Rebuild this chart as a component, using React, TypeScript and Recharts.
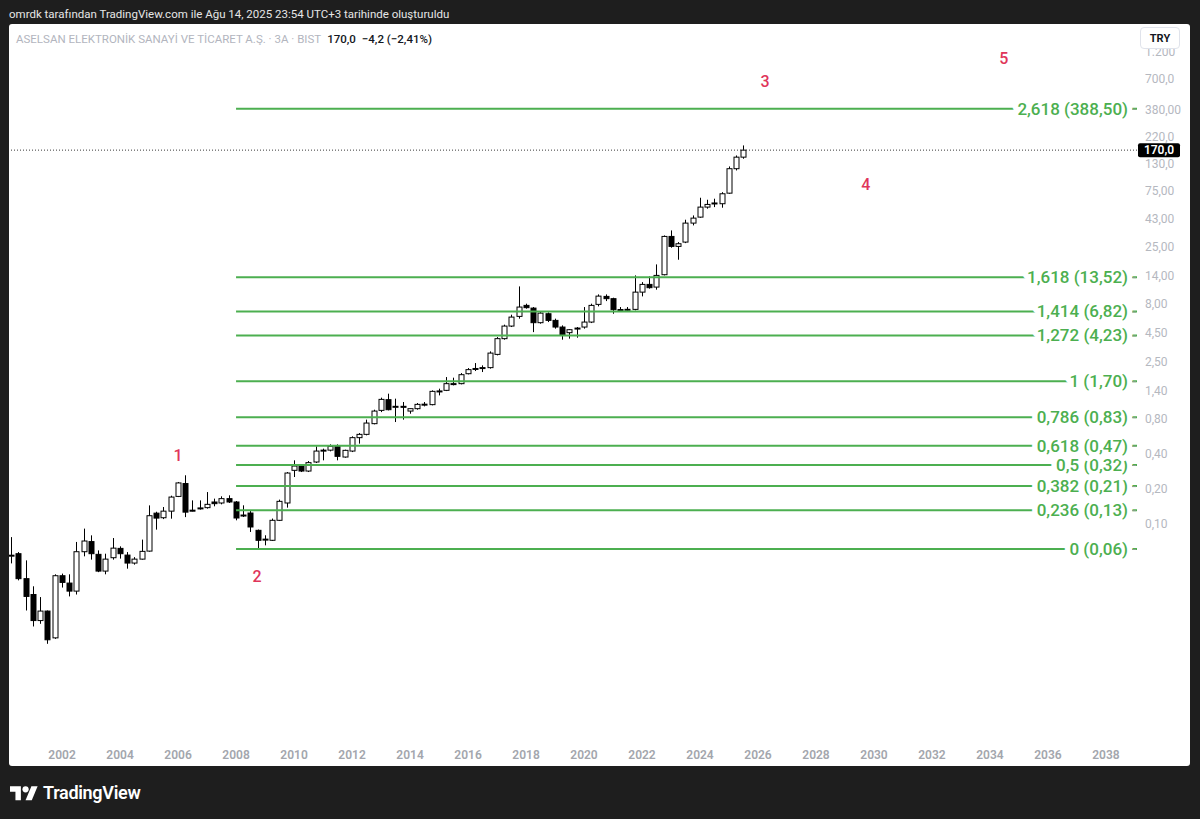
import React from 'react';
import { ComposedChart, Bar, XAxis, YAxis, ReferenceLine, ReferenceDot } from 'recharts';

document.body.style.margin = '0';

// quarterly bars (3A), first bar = Q2 2000
const firstQuarter = 2000.25;

const opens = [
  0.052, 0.0546, 0.0332, 0.0242, 0.0144, 0.0174, 0.0102, 0.0352, 0.0304, 0.0259,
  0.0568, 0.0695, 0.0539, 0.0386, 0.0504, 0.0607, 0.0531, 0.0453, 0.049, 0.0575,
  0.1225, 0.1118, 0.1275, 0.171, 0.221, 0.13, 0.135, 0.1367, 0.153, 0.15,
  0.1636, 0.153, 0.116, 0.1228, 0.087, 0.072, 0.0713, 0.1062, 0.15, 0.2876,
  0.3133, 0.2835, 0.3395, 0.428, 0.43, 0.4638, 0.3749, 0.4223, 0.5516, 0.589,
  0.729, 0.95, 1.176, 1.02, 1.03, 0.937, 0.983, 1.07, 1.065, 1.39,
  1.416, 1.61, 1.618, 1.973, 2.17, 2.22, 2.227, 2.9, 3.968, 5.099,
  6.184, 7.701, 7.296, 5.455, 6.52, 5.711, 5.001, 4.47, 4.88, 5.001,
  5.523, 7.856, 9.212, 8.805, 7.05, 7.1, 7.112, 10.03, 11.7, 11.09,
  14.19, 30.44, 24.95, 27.19, 39.7, 44.73, 54.62, 59.0, 58.41, 72.11,
  117.4, 147.8,
];
const highs = [
  0.076, 0.0564, 0.0478, 0.0285, 0.023, 0.0176, 0.0362, 0.0367, 0.0362, 0.069,
  0.09, 0.0787, 0.0583, 0.0546, 0.0746, 0.0632, 0.0564, 0.051, 0.0723, 0.143,
  0.126, 0.1384, 0.1735, 0.228, 0.2605, 0.158, 0.158, 0.1865, 0.1636, 0.1713,
  0.1747, 0.156, 0.1432, 0.1278, 0.0883, 0.0788, 0.11, 0.1604, 0.278, 0.351,
  0.3178, 0.346, 0.4638, 0.443, 0.4826, 0.4826, 0.4342, 0.5661, 0.6044, 0.79,
  0.963, 1.224, 1.325, 1.2, 1.122, 0.985, 1.1, 1.122, 1.416, 1.464,
  1.846, 1.823, 1.998, 2.208, 2.44, 2.33, 3.079, 4.095, 5.244, 6.396,
  11.24, 7.965, 7.449, 6.87, 6.697, 5.911, 5.17, 4.8, 5.001, 7.449,
  7.965, 9.586, 9.586, 8.975, 7.449, 7.449, 14.0, 12.25, 13.72, 17.43,
  31.05, 34.32, 27.19, 42.47, 46.26, 65.81, 63.25, 64.56, 73.55, 122.8,
  152.9, 186.7,
];
const lows = [
  0.045, 0.0321, 0.0176, 0.0128, 0.0135, 0.00906, 0.01, 0.0278, 0.0233, 0.0242,
  0.0518, 0.0485, 0.0378, 0.0362, 0.0485, 0.0495, 0.0405, 0.0439, 0.0485, 0.0568,
  0.0882, 0.1088, 0.1097, 0.1688, 0.1132, 0.127, 0.1314, 0.134, 0.1404, 0.146,
  0.15, 0.1062, 0.1134, 0.0842, 0.059, 0.0645, 0.0703, 0.1047, 0.1367, 0.2517,
  0.278, 0.278, 0.3327, 0.351, 0.4198, 0.351, 0.37, 0.4138, 0.4895, 0.5775,
  0.719, 0.918, 0.95, 0.753, 0.79, 0.889, 0.963, 1.029, 1.05, 1.281,
  1.396, 1.564, 1.596, 1.947, 2.081, 2.04, 2.183, 2.843, 3.888, 5.001,
  5.911, 7.215, 4.52, 5.347, 5.523, 4.844, 3.888, 3.968, 4.045, 4.844,
  5.413, 7.55, 8.39, 6.52, 6.877, 6.877, 6.972, 9.212, 10.75, 10.53,
  14.0, 24.32, 19.13, 26.64, 37.91, 44.18, 52.91, 54.62, 53.96, 71.24,
  113.4, 143.2,
];
const closes = [
  0.053, 0.0332, 0.0233, 0.0144, 0.0174, 0.00982, 0.0352, 0.0308, 0.0259, 0.0568,
  0.0703, 0.0546, 0.0386, 0.049, 0.061, 0.0546, 0.0453, 0.049, 0.0572, 0.1164,
  0.111, 0.1275, 0.1688, 0.2237, 0.125, 0.129, 0.136, 0.146, 0.148, 0.1636,
  0.153, 0.1112, 0.118, 0.093, 0.0713, 0.073, 0.1062, 0.155, 0.2725, 0.3133,
  0.2835, 0.3352, 0.4223, 0.43, 0.4638, 0.38, 0.4283, 0.5516, 0.589, 0.738,
  0.937, 1.183, 0.963, 1.03, 1.02, 0.983, 1.071, 1.075, 1.388, 1.4,
  1.618, 1.62, 1.935, 2.14, 2.19, 2.23, 2.976, 3.968, 5.099, 6.099,
  7.449, 7.359, 5.455, 6.602, 5.711, 5.001, 4.294, 4.743, 4.9, 5.523,
  7.701, 9.264, 8.805, 7.071, 7.09, 7.12, 10.03, 11.7, 10.96, 14.0,
  30.44, 24.95, 26.32, 39.7, 43.85, 54.62, 57.6, 59.3, 71.24, 117.4,
  147.8, 170.0,
];

const yearTicks = [2002, 2004, 2006, 2008, 2010, 2012, 2014, 2016, 2018, 2020, 2022, 2024, 2026, 2028, 2030, 2032, 2034, 2036, 2038];
const priceTicks = [0.1, 0.2, 0.4, 0.8, 1.4, 2.5, 4.5, 8, 14, 25, 43, 75, 130, 220, 380, 700, 1200];
const priceTickLabels = ['0,10', '0,20', '0,40', '0,80', '1,40', '2,50', '4,50', '8,00', '14,00', '25,00', '43,00', '75,00', '130,0', '220,0', '380,00', '700,0', '1.200'];

const fibRatios = ['0', '0,236', '0,382', '0,5', '0,618', '0,786', '1', '1,272', '1,414', '1,618', '2,618'];
const fibPrices = [0.06, 0.13, 0.21, 0.32, 0.47, 0.83, 1.7, 4.23, 6.82, 13.52, 388.5];
const fibStart = 2008;

const waveNames = ['1', '2', '3', '4', '5'];
const waveTimes = [2006.0, 2008.72, 2026.24, 2029.72, 2034.48];
const wavePrices = [0.388, 0.0348, 671, 85.8, 1062];

const lastPrice = 170.0;

const candles = opens.map((open, i) => ({
  t: firstQuarter + i * 0.25,
  open,
  high: highs[i],
  low: lows[i],
  close: closes[i],
  range: [lows[i], highs[i]],
}));

const xDomain = [2000.17, 2039.07];
const yDomain = [0.00128, 2100];

const GREEN = '#4caf50';
const RED = '#e0355a';

const fmt = (v: number, d: number) => v.toFixed(d).replace('.', ',');

function Candle(props: any) {
  const { x, y, width, height, payload } = props;
  if (!payload || height == null) return null;
  const { open, close, high, low } = payload;
  const lh = Math.log(high);
  const ll = Math.log(low);
  const toY = (v: number) => y + (height * (lh - Math.log(v))) / (lh - ll);
  const cx = Math.round(x + width / 2) + 0.5;
  const yo = toY(open);
  const yc = toY(close);
  const top = Math.min(yo, yc);
  const bot = Math.max(yo, yc);
  const up = close >= open;
  return (
    <g>
      <line x1={cx} x2={cx} y1={y} y2={y + height} stroke="#000" strokeWidth={1} />
      <rect x={cx - 2.5} y={top} width={5} height={Math.max(bot - top, 1)} fill={up ? '#fff' : '#000'} stroke="#000" strokeWidth={1} />
    </g>
  );
}

const fibLabel = (text: string) => (props: any) => {
  const vb = props.viewBox;
  if (!vb) return null;
  const right = vb.x + vb.width;
  const y = vb.y + (vb.height || 0) / 2;
  return (
    <g>
      <text
        x={right - 9}
        y={y}
        textAnchor="end"
        dominantBaseline="central"
        fill={GREEN}
        fontSize={17}
        fontWeight={500}
        stroke="#fff"
        strokeWidth={11}
        strokeLinejoin="round"
        style={{ paintOrder: 'stroke' }}
      >
        {text}
      </text>
      <line x1={right - 5} x2={right - 1} y1={y + 0.5} y2={y + 0.5} stroke="#8aa08c" strokeWidth={1} />
    </g>
  );
};

const lastLabel = (props: any) => {
  const vb = props.viewBox;
  if (!vb) return null;
  const right = vb.x + vb.width;
  const y = vb.y;
  return (
    <g>
      <rect x={right + 1} y={y - 7} width={42} height={14} rx={2} fill="#000" />
      <text x={right + 22} y={y} textAnchor="middle" dominantBaseline="central" fill="#fff" fontSize={12} fontWeight={600}>
        {fmt(lastPrice, 1)}
      </text>
    </g>
  );
};

export default function App() {
  return (
    <div style={{ position: 'relative', width: 1200, height: 819, background: '#1e1e1e', overflow: 'hidden', fontFamily: 'Roboto, sans-serif' }}>
      <div style={{ position: 'absolute', left: 9, top: 7, color: '#e6e6e6', fontSize: 11.5, lineHeight: '14px', whiteSpace: 'nowrap' }}>
        omrdk tarafından TradingView.com ile Ağu 14, 2025 23:54 UTC+3 tarihinde oluşturuldu
      </div>
      <div style={{ position: 'absolute', left: 9, top: 24, width: 1181, height: 742, background: '#fff', borderRadius: 3 }}>
        <ComposedChart width={1181} height={742} data={candles} margin={{ top: 0, right: 0, bottom: 0, left: 0 }}>
          <XAxis
            type="number"
            dataKey="t"
            domain={xDomain}
            allowDataOverflow
            ticks={yearTicks}
            interval={0}
            height={24}
            axisLine={false}
            tickLine={false}
            tick={{ fill: '#a3a6ad', fontSize: 12, fontWeight: 600 }}
          />
          <YAxis
            orientation="right"
            scale="log"
            domain={yDomain}
            allowDataOverflow
            ticks={priceTicks}
            interval={0}
            width={53}
            axisLine={false}
            tickLine={false}
            tickFormatter={(v: number) => priceTickLabels[priceTicks.indexOf(v)] ?? ''}
            tick={{ fill: '#b5b8bf', fontSize: 12 }}
          />
          {fibPrices.map((p, i) => (
            <ReferenceLine
              key={'fib' + i}
              segment={[{ x: fibStart, y: p }, { x: xDomain[1], y: p }]}
              stroke={GREEN}
              strokeWidth={2}
              label={fibLabel(`${fibRatios[i]} (${fmt(p, 2)})`)}
            />
          ))}
          <ReferenceLine y={lastPrice} stroke="#3a3a3a" strokeDasharray="1 2" label={lastLabel} />
          <Bar dataKey="range" shape={Candle} barSize={5} isAnimationActive={false} />
          {waveNames.map((n, i) => (
            <ReferenceDot
              key={'w' + i}
              x={waveTimes[i]}
              y={wavePrices[i]}
              r={0}
              fill="none"
              stroke="none"
              label={{ value: n, position: 'center', fill: RED, fontSize: 16, fontWeight: 500 }}
            />
          ))}
        </ComposedChart>
        <div style={{ position: 'absolute', left: 7, top: 8, fontSize: 11.5, lineHeight: '14px', whiteSpace: 'nowrap' }}>
          <span style={{ color: '#b2b5be' }}>ASELSAN ELEKTRONİK SANAYİ VE TİCARET A.Ş. · 3A · BIST</span>
          <span style={{ color: '#131722', marginLeft: 6, fontWeight: 500 }}>{fmt(lastPrice, 1)}</span>
          <span style={{ color: '#131722', marginLeft: 6, fontWeight: 500 }}>−4,2 (−2,41%)</span>
        </div>
        <div style={{ position: 'absolute', left: 1131, top: 3, width: 40, height: 22, background: '#fff', border: '1px solid #e0e3eb', borderRadius: 4, boxSizing: 'border-box', display: 'flex', alignItems: 'center', justifyContent: 'center', fontSize: 11, fontWeight: 700, color: '#131722' }}>
          TRY
        </div>
      </div>
      <svg width={28} height={22} viewBox="0 0 36 28" style={{ position: 'absolute', left: 10, top: 783 }}>
        <path d="M14 22H7V11H0V4h14v18z" fill="#fff" />
        <circle cx="20" cy="8" r="4" fill="#fff" />
        <path d="M28 22h-8l7.5-18h8L28 22z" fill="#fff" />
      </svg>
      <div style={{ position: 'absolute', left: 43, top: 782, color: '#fff', fontSize: 18, fontWeight: 600, lineHeight: '22px', letterSpacing: -0.3 }}>
        TradingView
      </div>
    </div>
  );
}
